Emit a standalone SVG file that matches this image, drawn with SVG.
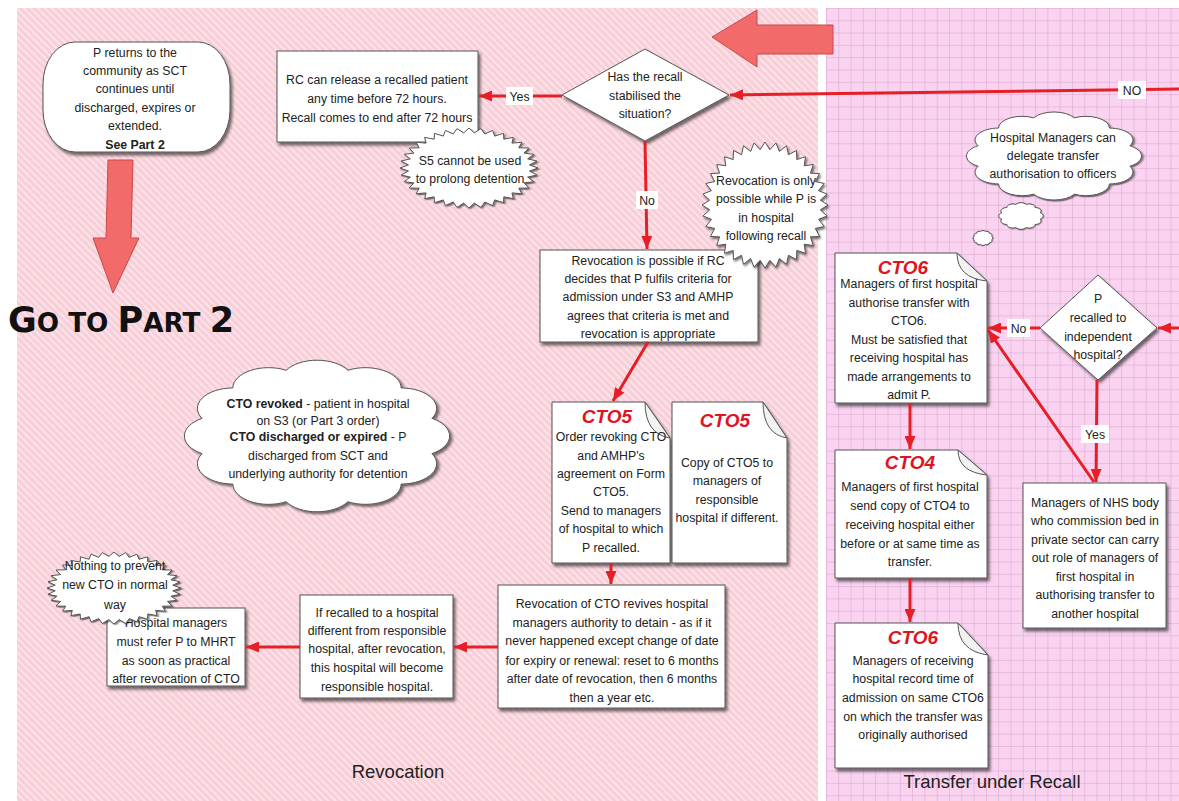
<svg xmlns="http://www.w3.org/2000/svg" width="1179" height="801" viewBox="0 0 1179 801">
<style>
.t{font-family:"Liberation Sans",Arial,sans-serif;font-size:12.3px;fill:#222;text-anchor:middle}
.b{font-weight:bold}
.box{fill:#fff;stroke:#555;stroke-width:1;filter:url(#sh)}
.fold{fill:#f2f2f2;stroke:#555;stroke-width:1}
.conn{stroke:#e61e25;stroke-width:3;fill:none;marker-end:url(#ah)}
.cto{font-family:"Liberation Sans",Arial,sans-serif;font-size:19px;font-weight:bold;font-style:italic;fill:#e0141e;text-anchor:middle}
.lblbg{fill:#fff}
.big{fill:#f26a6a;stroke:#c84848;stroke-width:1}
.title{font-family:"Liberation Sans",Arial,sans-serif;font-size:18.5px;fill:#222;text-anchor:middle}
</style>
<defs>
<filter id="sh" x="-20%" y="-20%" width="140%" height="140%">
<feDropShadow dx="2" dy="3" stdDeviation="1.5" flood-color="#000" flood-opacity="0.55"/>
</filter>
<marker id="ah" markerWidth="13" markerHeight="11" refX="13" refY="5.5" orient="auto" markerUnits="userSpaceOnUse">
<path d="M0,0 L13,5.5 L0,11 Z" fill="#e61e25"/>
</marker>
<pattern id="stripes" width="5" height="5" patternUnits="userSpaceOnUse" patternTransform="rotate(-45)">
<rect width="5" height="5" fill="#f8cfd8"/>
<rect width="1.8" height="5" fill="#fce5ea"/>
</pattern>
<pattern id="grid" x="826" y="8" width="12.3" height="12.3" patternUnits="userSpaceOnUse">
<rect width="12.3" height="12.3" fill="#f9d3f0"/>
<path d="M0,0 H12.3 M0,0 V12.3" stroke="#d9a2cc" stroke-width="1" fill="none"/>
</pattern>
<path id="burst" vector-effect="non-scaling-stroke" d="M100,0 L87.7,7.7 L98.5,17.4 L85,22.8 L94,34.2 L79.8,37.2 L86.6,50 L72.1,50.5 L76.6,64.3 L62.2,62.2 L64.3,76.6 L50.5,72.1 L50,86.6 L37.2,79.8 L34.2,94 L22.8,85 L17.4,98.5 L7.7,87.7 L0,100 L-7.7,87.7 L-17.4,98.5 L-22.8,85 L-34.2,94 L-37.2,79.8 L-50,86.6 L-50.5,72.1 L-64.3,76.6 L-62.2,62.2 L-76.6,64.3 L-72.1,50.5 L-86.6,50 L-79.8,37.2 L-94,34.2 L-85,22.8 L-98.5,17.4 L-87.7,7.7 L-100,0 L-87.7,-7.7 L-98.5,-17.4 L-85,-22.8 L-94,-34.2 L-79.8,-37.2 L-86.6,-50 L-72.1,-50.5 L-76.6,-64.3 L-62.2,-62.2 L-64.3,-76.6 L-50.5,-72.1 L-50,-86.6 L-37.2,-79.8 L-34.2,-94 L-22.8,-85 L-17.4,-98.5 L-7.7,-87.7 L0,-100 L7.7,-87.7 L17.4,-98.5 L22.8,-85 L34.2,-94 L37.2,-79.8 L50,-86.6 L50.5,-72.1 L64.3,-76.6 L62.2,-62.2 L76.6,-64.3 L72.1,-50.5 L86.6,-50 L79.8,-37.2 L94,-34.2 L85,-22.8 L98.5,-17.4 L87.7,-7.7 Z"/>
<path id="cloud" vector-effect="non-scaling-stroke" d="M96.6,25.9 A30,30 0 0 1 70.7,70.7 A30,30 0 0 1 25.9,96.6 A30,30 0 0 1 -25.9,96.6 A30,30 0 0 1 -70.7,70.7 A30,30 0 0 1 -96.6,25.9 A30,30 0 0 1 -96.6,-25.9 A30,30 0 0 1 -70.7,-70.7 A30,30 0 0 1 -25.9,-96.6 A30,30 0 0 1 25.9,-96.6 A30,30 0 0 1 70.7,-70.7 A30,30 0 0 1 96.6,-25.9 A30,30 0 0 1 96.6,25.9 Z"/>
</defs>

<g id="background">
<rect x="0" y="0" width="1179" height="801" fill="#fff"/>
<rect x="17" y="8" width="801" height="793" fill="url(#stripes)"/>
<rect x="826" y="8" width="353" height="793" fill="url(#grid)"/>
</g>

<g id="big-arrows">
<polygon class="big" points="712,37 757,10 757,25 833,25 833,54 757,54 757,67"/>
<polygon class="big" points="108,160 133,160 131,238 139,238 113,293 93,238 106,238"/>
</g>

<g id="go-to-part2">
<text x="8" y="332" font-family="DejaVu Sans, sans-serif" font-weight="bold" font-size="36" fill="#111" textLength="226" lengthAdjust="spacingAndGlyphs">G<tspan font-size="27">O TO </tspan>P<tspan font-size="27">ART </tspan>2</text>
</g>

<g id="n-returns">
<rect class="box" x="43" y="42" width="187" height="110" rx="32" ry="42"/>
<text class="t" x="135"><tspan x="135" y="57">P returns to the</tspan><tspan x="135" y="75">community as SCT</tspan><tspan x="135" y="93">continues until</tspan><tspan x="135" y="112">discharged, expires or</tspan><tspan x="135" y="130">extended.</tspan><tspan x="135" y="149" class="b">See Part 2</tspan></text>
</g>

<g id="n-rc-release">
<rect class="box" x="277" y="51" width="201" height="91"/>
<text class="t"><tspan x="377" y="84">RC can release a recalled patient</tspan><tspan x="377" y="103">any time before 72 hours.</tspan><tspan x="377" y="122">Recall comes to end after 72 hours</tspan></text>
</g>

<g id="n-stabilised">
<polygon class="box" points="645,49 729,95 645,141 562,95"/>
<text class="t"><tspan x="645" y="81">Has the recall</tspan><tspan x="645" y="100">stabilised the</tspan><tspan x="645" y="118">situation?</tspan></text>
</g>

<g id="n-revocation-possible">
<rect class="box" x="540" y="250" width="218" height="92"/>
<text class="t"><tspan x="648" y="265">Revocation is possible if RC</tspan><tspan x="648" y="283">decides that P fulfils criteria for</tspan><tspan x="648" y="301">admission under S3 and AMHP</tspan><tspan x="648" y="320">agrees that criteria is met and</tspan><tspan x="648" y="338">revocation is appropriate</tspan></text>
</g>

<g id="n-cto5-order">
<path class="box" d="M552,402 H645 L670,438 V563 H552 Z"/>
<path class="fold" d="M645,402 Q645,434 670,438 Z"/>
<text class="cto" x="607" y="423">CTO5</text>
<text class="t"><tspan x="611" y="441">Order revoking CTO</tspan><tspan x="611" y="459.5">and AMHP's</tspan><tspan x="611" y="478">agreement on Form</tspan><tspan x="611" y="496">CTO5.</tspan><tspan x="611" y="514.5">Send to managers</tspan><tspan x="611" y="533">of hospital to which</tspan><tspan x="611" y="551.5">P recalled.</tspan></text>
</g>

<g id="n-cto5-copy">
<path class="box" d="M672,402 H763 L787,438 V563 H672 Z"/>
<path class="fold" d="M763,402 Q763,434 787,438 Z"/>
<text class="cto" x="725" y="427">CTO5</text>
<text class="t"><tspan x="727" y="466.5">Copy of CTO5 to</tspan><tspan x="727" y="485">managers of</tspan><tspan x="727" y="503.5">responsible</tspan><tspan x="727" y="522">hospital if different.</tspan></text>
</g>

<g id="n-revives">
<rect class="box" x="498" y="585" width="227" height="123"/>
<text class="t"><tspan x="612" y="607.5">Revocation of CTO revives hospital</tspan><tspan x="612" y="626.5">managers authority to detain - as if it</tspan><tspan x="612" y="645">never happened except change of date</tspan><tspan x="612" y="664.5">for expiry or renewal: reset to 6 months</tspan><tspan x="612" y="683">after date of revocation, then 6 months</tspan><tspan x="612" y="701.5">then a year etc.</tspan></text>
</g>

<g id="n-if-recalled">
<rect class="box" x="300" y="595" width="153" height="103"/>
<text class="t"><tspan x="377" y="616.5">If recalled to a hospital</tspan><tspan x="377" y="634.5">different from responsible</tspan><tspan x="377" y="653">hospital, after revocation,</tspan><tspan x="377" y="671.5">this hospital will become</tspan><tspan x="377" y="690.5">responsible hospital.</tspan></text>
</g>

<g id="n-refer-mhrt">
<rect class="box" x="107" y="608" width="138" height="78"/>
<text class="t"><tspan x="176" y="626.5">Hospital managers</tspan><tspan x="176" y="646">must refer P to MHRT</tspan><tspan x="176" y="664.5">as soon as practical</tspan><tspan x="176" y="683">after revocation of CTO</tspan></text>
</g>

<g id="n-cto6-authorise">
<path class="box" d="M835,253 H957 L987,281 V403 H835 Z"/>
<path class="fold" d="M957,253 Q957,278 987,281 Z"/>
<text class="cto" x="903" y="274">CTO6</text>
<text class="t"><tspan x="909" y="288">Managers of first hospital</tspan><tspan x="909" y="306.5">authorise transfer with</tspan><tspan x="909" y="325">CTO6.</tspan><tspan x="909" y="343.5">Must be satisfied that</tspan><tspan x="909" y="362">receiving hospital has</tspan><tspan x="909" y="380.5">made arrangements to</tspan><tspan x="909" y="399">admit P.</tspan></text>
</g>

<g id="n-independent">
<polygon class="box" points="1098,275 1157,328 1098,380 1040,328"/>
<text class="t"><tspan x="1098" y="303">P</tspan><tspan x="1098" y="322">recalled to</tspan><tspan x="1098" y="341">independent</tspan><tspan x="1098" y="359">hospital?</tspan></text>
</g>

<g id="n-nhs-body">
<rect class="box" x="1023" y="483" width="143" height="145"/>
<text class="t"><tspan x="1095" y="506.5">Managers of NHS body</tspan><tspan x="1095" y="525">who commission bed in</tspan><tspan x="1095" y="543.5">private sector can carry</tspan><tspan x="1095" y="562">out role of managers of</tspan><tspan x="1095" y="580.5">first hospital in</tspan><tspan x="1095" y="599">authorising transfer to</tspan><tspan x="1095" y="617.5">another hospital</tspan></text>
</g>

<g id="n-cto4">
<path class="box" d="M835,450 H958 L987,475 V578 H835 Z"/>
<path class="fold" d="M958,450 Q958,472 987,475 Z"/>
<text class="cto" x="910" y="469">CTO4</text>
<text class="t"><tspan x="910" y="491">Managers of first hospital</tspan><tspan x="910" y="509.5">send copy of CTO4 to</tspan><tspan x="910" y="529">receiving hospital either</tspan><tspan x="910" y="548">before or at same time as</tspan><tspan x="910" y="566">transfer.</tspan></text>
</g>

<g id="n-cto6-record">
<path class="box" d="M835,623 H958 L988,655 V768 H835 Z"/>
<path class="fold" d="M958,623 Q958,651 988,655 Z"/>
<text class="cto" x="913" y="644">CTO6</text>
<text class="t"><tspan x="913" y="664.5">Managers of receiving</tspan><tspan x="913" y="682.5">hospital record time of</tspan><tspan x="913" y="701.5">admission on same CTO6</tspan><tspan x="913" y="721">on which the transfer was</tspan><tspan x="913" y="739">originally authorised</tspan></text>
</g>

<g id="connectors">
<line class="conn" x1="562" y1="96" x2="479" y2="96"/>
<line class="conn" x1="1179" y1="89" x2="730" y2="95"/>
<line class="conn" x1="645" y1="141" x2="647" y2="249"/>
<line class="conn" x1="648" y1="342" x2="613" y2="401"/>
<line class="conn" x1="611" y1="563" x2="611" y2="584"/>
<line class="conn" x1="498" y1="647" x2="454" y2="647"/>
<line class="conn" x1="300" y1="647" x2="246" y2="647"/>
<line class="conn" x1="1179" y1="328" x2="1158" y2="328"/>
<line class="conn" x1="1040" y1="328" x2="988" y2="328"/>
<line class="conn" x1="1097" y1="380" x2="1096" y2="482"/>
<line class="conn" x1="1094" y1="482" x2="988" y2="330"/>
<line class="conn" x1="910" y1="403" x2="910" y2="449"/>
<line class="conn" x1="910" y1="578" x2="910" y2="622"/>
<rect class="lblbg" x="506" y="87" width="27" height="18"/>
<text class="t" x="519.5" y="100.5">Yes</text>
<rect class="lblbg" x="1118" y="81" width="28" height="18"/>
<text class="t" x="1132" y="94.5">NO</text>
<rect class="lblbg" x="636" y="191" width="22" height="18"/>
<text class="t" x="647" y="204.5">No</text>
<rect class="lblbg" x="1007" y="319" width="23" height="18"/>
<text class="t" x="1018.5" y="332.5">No</text>
<rect class="lblbg" x="1081" y="425" width="28" height="18"/>
<text class="t" x="1095" y="438.5">Yes</text>
</g>

<g id="n-s5-burst">
<use href="#burst" class="box" transform="translate(469,168) scale(0.69,0.40)"/>
<text class="t"><tspan x="470" y="164.5">S5 cannot be used</tspan><tspan x="470" y="182.5">to prolong detention</tspan></text>
</g>

<g id="n-only-possible-burst">
<use href="#burst" class="box" transform="translate(765,205) scale(0.63,0.63)"/>
<text class="t"><tspan x="766" y="184.5">Revocation is only</tspan><tspan x="766" y="203">possible while P is</tspan><tspan x="766" y="221.5">in hospital</tspan><tspan x="766" y="240">following recall</tspan></text>
</g>

<g id="n-nothing-burst">
<use href="#burst" class="box" transform="translate(114,588) scale(0.67,0.36)"/>
<text class="t"><tspan x="115" y="569.5">Nothing to prevent</tspan><tspan x="115" y="589">new CTO in normal</tspan><tspan x="115" y="608.5">way</tspan></text>
</g>

<g id="n-revoked-cloud">
<use href="#cloud" class="box" transform="translate(317,436) scale(1.19,0.68)"/>
<text class="t"><tspan x="318" y="408"><tspan class="b">CTO revoked</tspan> - patient in hospital</tspan><tspan x="318" y="424.5">on S3 (or Part 3 order)</tspan><tspan x="318" y="441"><tspan class="b">CTO discharged or expired</tspan>  - P</tspan><tspan x="318" y="459.5">discharged from SCT and</tspan><tspan x="318" y="478">underlying authority for detention</tspan></text>
</g>

<g id="n-delegate-cloud">
<use href="#cloud" class="box" transform="translate(1054,156) scale(0.785,0.395)"/>
<use href="#cloud" class="box" transform="translate(1021,216) scale(0.2,0.12)"/>
<use href="#cloud" class="box" transform="translate(983,238) scale(0.09,0.067)"/>
<text class="t"><tspan x="1053" y="141.5">Hospital Managers can</tspan><tspan x="1053" y="159.5">delegate transfer</tspan><tspan x="1053" y="177.5">authorisation to officers</tspan></text>
</g>

<g id="section-titles">
<text class="title" x="398" y="778">Revocation</text>
<text class="title" x="992" y="788">Transfer under Recall</text>
</g>
</svg>
